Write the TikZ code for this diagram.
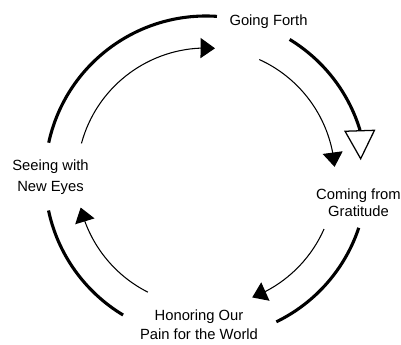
\documentclass[tikz,border=0pt]{standalone}
\usepackage{fontspec}
\setmainfont{Liberation Sans}
\usetikzlibrary{arrows.meta, bending}

\begin{document}
\begin{tikzpicture}[x=0.025cm, y=0.025cm,
    stage/.style={align=center, inner sep=0pt, font=\fontsize{10.5}{13.5}\selectfont},
    outer/.style={line width=2.2pt},
    inner/.style={line width=0.75pt, -{Triangle[length=0.36cm, width=0.5cm]}},
    release/.style={outer, -{Triangle[open, length=0.75cm, width=0.78cm, line width=0.9pt]}}]
    \useasboundingbox (0,0) rectangle (401,344);
    \coordinate (c) at (206,167);
    \node [stage, anchor=base] (forth) at (268.5,319) {Going Forth};
    \node [stage, anchor=base] (seeing) at (50.5,152.3) {Seeing with\\[1.4pt] New Eyes};
    \node [stage, anchor=base] (coming) at (358.5,128) {Coming from\\[-1.5pt] Gratitude};
    \node [stage, anchor=base] (honoring) at (199,5) {Honoring Our\\ Pain for the World};
    % outer ring
    \draw [outer] (c) ++(167.7:161) arc[start angle=167.7, end angle=86.1, radius=161];
    \draw [release] (c) ++(58.7:161) arc[start angle=58.7, end angle=17.3, radius=161] -- ++(1,-31);
    \draw [outer] (c) ++(-18.4:161) arc[start angle=-18.4, end angle=-64.1, radius=161];
    \draw [outer] (c) ++(239:161) arc[start angle=239, end angle=192, radius=161];
    % inner ring
    \draw [inner] (c) ++(164.9:129) arc[start angle=164.9, end angle=86, radius=129];
    \draw [inner] (c) ++(65.6:129) arc[start angle=65.6, end angle=4.5, radius=129];
    \draw [inner] (c) ++(-23.8:129) arc[start angle=-23.8, end angle=-69, radius=129];
    \draw [inner] (c) ++(243.2:129) arc[start angle=243.2, end angle=193.7, radius=129];
\end{tikzpicture}
\end{document}
